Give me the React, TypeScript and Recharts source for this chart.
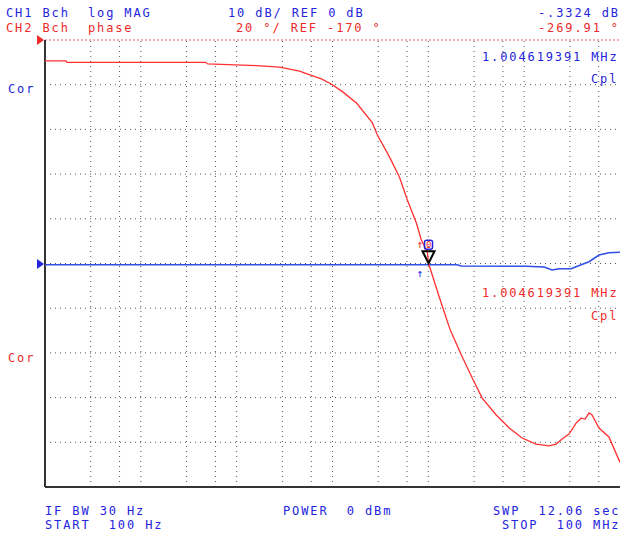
import React from "react";
import {
    LineChart,
    Line,
    XAxis,
    YAxis,
    ReferenceLine,
    ReferenceDot,
} from "recharts";

// CH2 phase trace (Hz, degrees)
const phaseFreqs = [100, 166, 169, 4750, 4990, 16100, 28000, 45300, 59000, 76700, 97700, 127000, 178000, 261000, 294000, 393000, 499000, 604000, 750000, 845000, 977000, 1004619, 1300000, 1690000, 2210000, 2940000, 3650000, 5110000, 6980000, 9530000, 13300000, 18200000, 21500000, 24900000, 29400000, 34800000, 39300000, 43200000, 47500000, 51100000, 60400000, 76700000, 100000000];
const phaseValues = [-79.3, -79.3, -80.0, -80.0, -80.7, -81.5, -82.1, -83.9, -85.7, -87.4, -89.8, -93.1, -98.2, -107.1, -112.5, -122.3, -131.3, -141.6, -151.9, -159.5, -164.8, -169.9, -185.0, -199.7, -210.9, -222.1, -230.2, -237.8, -243.6, -248.1, -250.8, -251.6, -250.8, -248.5, -246.3, -241.4, -239.2, -239.6, -236.9, -237.8, -243.6, -247.6, -259.0];

// CH1 log MAG trace (Hz, dB)
const magFreqs = [100, 2000000, 2200000, 10500000, 16100000, 19600000, 23200000, 30900000, 34800000, 47500000, 60400000, 76700000, 100000000];
const magValues = [-0.3, -0.3, -0.56, -0.6, -0.8, -1.45, -1.2, -1.16, -0.72, 0.4, 1.9, 2.4, 2.5];

const gridFreqs = [300, 600, 1e3, 3e3, 6e3, 1e4, 3e4, 6e4, 1e5, 3e5, 6e5, 1e6, 3e6, 6e6, 1e7, 3e7, 6e7];
const gridDb = [-40, -30, -20, -10, 0, 10, 20, 30, 40];

const markerFreq = 1004619;
const markerPhase = -169.9;

const phaseData = phaseFreqs.map((f, i) => ({ f, phase: phaseValues[i] }));
const magData = magFreqs.map((f, i) => ({ f, mag: magValues[i] }));

const BLUE = "#2424dc";
const RED = "#ee2a2a";
const font = { fontFamily: "'DejaVu Sans Mono', monospace", fontSize: 12, letterSpacing: 1.88 };

const T = (p: any) => <text xmlSpace="preserve" {...p} />;

const MarkerShape = (props: any) => {
    const { cx, cy } = props;
    return (
        <g>
            <polygon points={`${cx - 6},${cy - 12} ${cx + 6},${cy - 12} ${cx},${cy}`} fill="none" stroke="#000" strokeWidth={2} />
            <rect x={cx - 4} y={cy - 23} width={8} height={9} fill="none" stroke={BLUE} strokeWidth={1.5} rx={2} />
            <text x={cx - 2.5} y={cy - 15} fill={RED} fontSize={9} fontFamily="DejaVu Sans Mono">0</text>
            <text x={cx - 12} y={cy - 15} fill={RED} fontSize={11} fontFamily="DejaVu Sans Mono">↑</text>
            <text x={cx - 12} y={cy + 14} fill={BLUE} fontSize={11} fontFamily="DejaVu Sans Mono">↑</text>
        </g>
    );
};

export default function App() {
    return (
        <div style={{ position: "absolute", left: 0, top: 0, width: 620, height: 533, background: "#fff" }}>
            <LineChart width={620} height={533} data={phaseData} margin={{ top: 40, right: 0, bottom: 46, left: 45 }}>
                <XAxis dataKey="f" type="number" scale="log" domain={[100, 100000000]} allowDataOverflow hide />
                <YAxis yAxisId="mag" type="number" domain={[-50, 50]} allowDataOverflow hide />
                <YAxis yAxisId="ph" type="number" domain={[-270, -70]} allowDataOverflow hide />

                {gridFreqs.map((f) => (
                    <ReferenceLine key={"v" + f} x={f} yAxisId="mag" stroke="#555" strokeDasharray="1 4" />
                ))}
                {gridDb.map((d) => (
                    <ReferenceLine key={"h" + d} y={d} yAxisId="mag" stroke="#555" strokeDasharray="1 4" />
                ))}
                <ReferenceLine y={50} yAxisId="mag" stroke="#e06060" strokeDasharray="2 2" />
                <ReferenceLine y={-50} yAxisId="mag" stroke="#333" strokeWidth={2} />
                <ReferenceLine x={100} yAxisId="mag" stroke="#333" strokeWidth={2} />

                <Line data={magData} yAxisId="mag" dataKey="mag" stroke="#2f4fe6" strokeWidth={1.5} dot={false} type="linear" isAnimationActive={false} />
                <Line data={phaseData} yAxisId="ph" dataKey="phase" stroke="#ff3030" strokeWidth={1.3} dot={false} type="linear" isAnimationActive={false} />

                <ReferenceDot x={markerFreq} y={markerPhase} yAxisId="ph" r={0} shape={MarkerShape} />
            </LineChart>

            <svg width={620} height={533} style={{ position: "absolute", left: 0, top: 0, pointerEvents: "none" }}>
                <g style={font}>
                    <T x={6} y={17} fill={BLUE}>CH1 Bch  log MAG</T>
                    <T x={228} y={17} fill={BLUE}>10 dB/ REF 0 dB</T>
                    <T x={538} y={17} fill={BLUE}>-.3324 dB</T>
                    <T x={6} y={32} fill={RED}>CH2 Bch  phase</T>
                    <T x={236} y={32} fill={RED}>20 °/ REF -170 °</T>
                    <T x={538} y={32} fill={RED}>-269.91 °</T>

                    <T x={8} y={93} fill={BLUE}>Cor</T>
                    <T x={8} y={362} fill={RED}>Cor</T>

                    <T x={482} y={61} fill={BLUE}>1.004619391 MHz</T>
                    <T x={591} y={83} fill={BLUE}>Cpl</T>
                    <T x={482} y={297} fill={RED}>1.004619391 MHz</T>
                    <T x={591} y={320} fill={RED}>Cpl</T>

                    <T x={45} y={515} fill={BLUE}>IF BW 30 Hz</T>
                    <T x={45} y={529} fill={BLUE}>START  100 Hz</T>
                    <T x={283} y={515} fill={BLUE}>POWER  0 dBm</T>
                    <T x={493} y={515} fill={BLUE}>SWP  12.06 sec</T>
                    <T x={502} y={529} fill={BLUE}>STOP  100 MHz</T>
                </g>
                <polygon points="37,35 44,40 37,45" fill={RED} />
                <polygon points="37,259 44,264 37,269" fill={BLUE} />
            </svg>
        </div>
    );
}
